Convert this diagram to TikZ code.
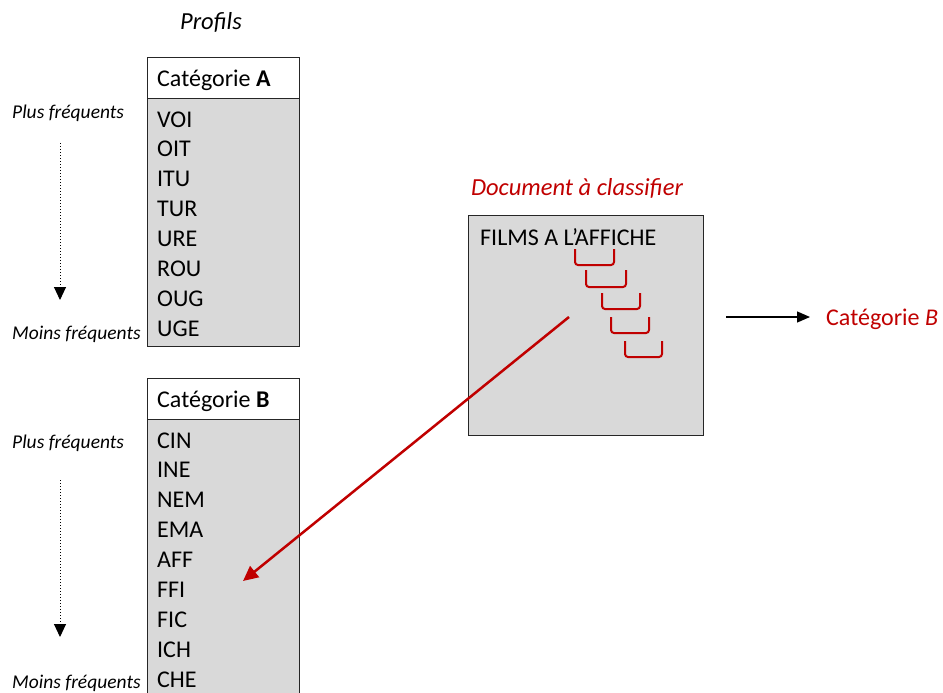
\documentclass[tikz,border=0pt]{standalone}
\usepackage{fontspec}
\setmainfont{Carlito}
\usetikzlibrary{arrows.meta}
\definecolor{boxgray}{HTML}{D9D9D9}
\definecolor{darkred}{HTML}{C00000}
\definecolor{edge}{HTML}{262626}
\tikzset{
  hdr/.style={draw=edge, line width=1.3pt, fill=white, minimum width=152pt, minimum height=41pt, inner sep=0pt, anchor=north west},
  body/.style={draw=edge, line width=1.3pt, fill=boxgray, minimum width=152pt, inner sep=0pt, anchor=north west},
  item/.style={anchor=base west, inner sep=0pt, font=\fontsize{24}{28}\selectfont},
  side/.style={anchor=base west, inner sep=0pt, font=\fontsize{19.5}{23}\selectfont\itshape},
  ttl/.style={anchor=base, inner sep=0pt, font=\fontsize{24.5}{28}\selectfont\itshape},
  dotarrow/.style={dotted, line width=1pt, -{Triangle[length=13pt,width=12pt]}},
  bracket/.style={darkred, line width=2pt, rounded corners=3pt},
}
\begin{document}
\begin{tikzpicture}[x=1pt,y=-1pt]
\useasboundingbox (0,0) rectangle (943,693);
% Title
\node[ttl] (profils) at (211,30) {Profils};
% Box A
\node[body, minimum height=248pt] (bA) at (147,98) {};
\node[hdr] (hA) at (147,57) {};
\node[item] (tA) at (157,86) {Catégorie \textbf{A}};
\foreach \t [count=\i from 0] in {VOI,OIT,ITU,TUR,URE,ROU,OUG,UGE}
  \node[item] (a\i) at (157,{127+29.9*\i}) {\t};
% Box B
\node[body, minimum height=282pt] (bB) at (147,419) {};
\node[hdr] (hB) at (147,378) {};
\node[item] (tB) at (157,407) {Catégorie \textbf{B}};
\foreach \t [count=\i from 0] in {CIN,INE,NEM,EMA,AFF,FFI,FIC,ICH,CHE}
  \node[item] (b\i) at (157,{448+29.9*\i}) {\t};
% Side labels
\node[side] (pA) at (12,118) {Plus fréquents};
\node[side] (mA) at (12,339) {Moins fréquents};
\node[side] (pB) at (12,448) {Plus fréquents};
\node[side] (mB) at (12,688) {Moins fréquents};
\coordinate (dA1) at (60,143);
\coordinate (dA2) at (60,300);
\coordinate (dB1) at (60,480);
\coordinate (dB2) at (60,637);
\draw[dotarrow] (dA1) -- (dA2);
\draw[dotarrow] (dB1) -- (dB2);
% Document
\node[ttl, text=darkred] (doct) at (577,195) {Document à classifier};
\node[draw=edge, line width=1.3pt, fill=boxgray, minimum width=235pt, minimum height=220pt, inner sep=0pt, anchor=north west] (doc) at (467.5,214.5) {};
\node[item] (films) at (480,245) {FILMS A L’AFFICHE};
\draw[bracket] (575,249) -- (575,265) -- (614,265) -- (614,249);
\draw[bracket] (586,270) -- (586,287) -- (626,287) -- (626,270);
\draw[bracket] (602,293) -- (602,309) -- (640,309) -- (640,293);
\draw[bracket] (611,317) -- (611,333) -- (649,333) -- (649,317);
\draw[bracket] (625,341) -- (625,357) -- (662,357) -- (662,341);
% Red arrow
\coordinate (rs) at (569,317);
\coordinate (re) at (243,581);
\draw[darkred, line width=2.5pt, -{Triangle[length=15pt,width=14pt]}] (rs) -- (re);
% Result
\coordinate (ra) at (726,317);
\node[item, text=darkred] (res) at (826,325) {Catégorie \textit{B}};
\draw[line width=1.3pt, shorten >=16pt, -{Triangle[length=13pt,width=11pt]}] (ra) -- (res.west |- ra);
\end{tikzpicture}
\end{document}
